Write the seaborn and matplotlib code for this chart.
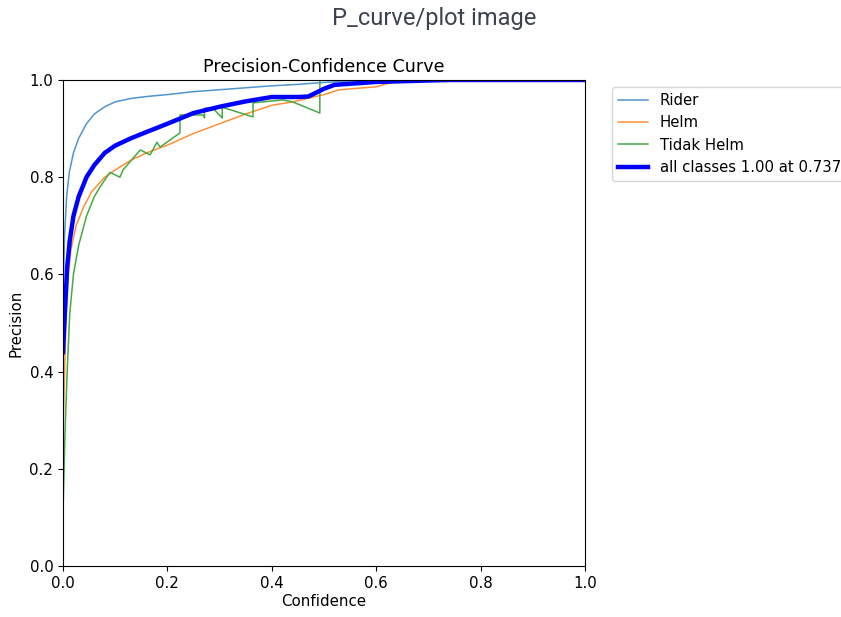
import matplotlib
matplotlib.use("Agg")
import matplotlib.pyplot as plt
import seaborn as sns
import pandas as pd

# ---- data ----
rider_conf = [0.0, 0.003, 0.007, 0.012, 0.02, 0.03, 0.045, 0.06, 0.08, 0.1, 0.13, 0.16,
              0.2, 0.25, 0.3, 0.35, 0.4, 0.45, 0.5, 0.55, 0.6, 0.7, 0.8, 1.0]
rider_prec = [0.55, 0.68, 0.76, 0.81, 0.85, 0.88, 0.91, 0.93, 0.945, 0.955, 0.962, 0.966,
              0.97, 0.976, 0.98, 0.984, 0.988, 0.991, 0.995, 0.998, 1.0, 1.0, 1.0, 1.0]

helm_conf = [0.0, 0.003, 0.006, 0.01, 0.015, 0.025, 0.04, 0.055, 0.08, 0.1, 0.13, 0.16,
             0.2, 0.25, 0.3, 0.35, 0.4, 0.44, 0.5, 0.53, 0.6, 0.62, 0.65, 1.0]
helm_prec = [0.27, 0.40, 0.52, 0.60, 0.65, 0.70, 0.74, 0.77, 0.80, 0.815, 0.835, 0.85,
             0.866, 0.89, 0.91, 0.93, 0.948, 0.955, 0.97, 0.98, 0.986, 0.992, 1.0, 1.0]

tidak_conf = [0.0, 0.004, 0.008, 0.013, 0.02, 0.03, 0.045, 0.06, 0.071, 0.09, 0.109, 0.115,
              0.148, 0.167, 0.18, 0.186, 0.224, 0.2241, 0.268, 0.271, 0.2711, 0.287, 0.305,
              0.3051, 0.364, 0.3641, 0.421, 0.44, 0.492, 0.4921, 1.0]
tidak_prec = [0.11, 0.28, 0.40, 0.52, 0.60, 0.66, 0.72, 0.76, 0.78, 0.81, 0.80, 0.815,
              0.856, 0.846, 0.872, 0.862, 0.891, 0.928, 0.928, 0.922, 0.942, 0.942, 0.922,
              0.944, 0.924, 0.953, 0.959, 0.955, 0.932, 1.0, 1.0]

all_conf = [0.0, 0.004, 0.008, 0.013, 0.02, 0.03, 0.045, 0.06, 0.08, 0.1, 0.13, 0.16,
            0.2, 0.25, 0.3, 0.35, 0.4, 0.45, 0.47, 0.5, 0.52, 0.6, 0.7, 0.737, 1.0]
all_prec = [0.44, 0.53, 0.615, 0.67, 0.72, 0.76, 0.80, 0.825, 0.85, 0.865, 0.88, 0.893,
            0.91, 0.932, 0.945, 0.956, 0.965, 0.965, 0.966, 0.982, 0.99, 0.996, 0.999, 1.0, 1.0]

series_names = ["Rider", "Helm", "Tidak Helm", "all classes 1.00 at 0.737"]

plt.rcParams["xtick.labelsize"] = 10.8
plt.rcParams["ytick.labelsize"] = 10.8
plt.rcParams["axes.labelsize"] = 10.8

fig = plt.figure(figsize=(8.41, 6.17), dpi=100)
ax = fig.add_axes([63 / 841, 51 / 617, 522 / 841, 486 / 617])

thin = [(rider_conf, rider_prec, "#4f95cf"),
        (helm_conf, helm_prec, "#ff8f35"),
        (tidak_conf, tidak_prec, "#45aa45")]
for (c, p, col), name in zip(thin, series_names[:3]):
    df = pd.DataFrame({"Confidence": c, "Precision": p})
    sns.lineplot(data=df, x="Confidence", y="Precision", ax=ax, color=col, linewidth=1.1,
                 sort=False, estimator=None, label=name)

df_all = pd.DataFrame({"Confidence": all_conf, "Precision": all_prec})
sns.lineplot(data=df_all, x="Confidence", y="Precision", ax=ax, color="blue", linewidth=3.2,
             sort=False, estimator=None, label=series_names[3])

ax.set_xlim(0, 1)
ax.set_ylim(0, 1)
ax.set_xlabel("Confidence", labelpad=2.5)
ax.set_ylabel("Precision")
ax.set_title("Precision-Confidence Curve", fontsize=12.6)
ax.legend(loc="upper left", bbox_to_anchor=(1.052, 0.986), borderaxespad=0, fontsize=10.7)

fig.text(0.516, 0.970, "P_curve/plot image", ha="center", va="center",
         family="Roboto", fontsize=17, color="#3c4350")

fig.savefig("out.png", dpi=100)
